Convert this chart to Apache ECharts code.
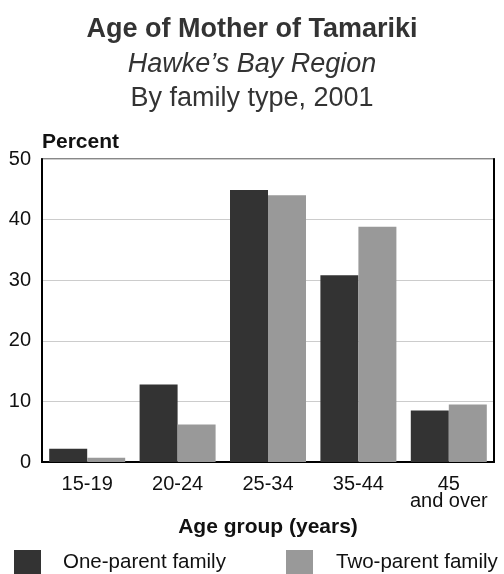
<!DOCTYPE html>
<html>
<head>
<meta charset="utf-8">
<script src="https://cdn.jsdelivr.net/npm/echarts@6/dist/echarts.min.js"></script>
<style>
html,body{margin:0;padding:0;background:#fff;}
#chart{width:504px;height:574px;}
</style>
</head>
<body>
<div id="chart"></div>
<script>
var titleLines = ['Age of Mother of Tamariki', 'Hawke\u2019s Bay Region', 'By family type, 2001'];
var categories = ['15-19', '20-24', '25-34', '35-44', '45\nand over'];
var seriesNames = ['One-parent family', 'Two-parent family'];
var onePar = [2.2, 12.8, 44.9, 30.8, 8.5];
var twoPar = [0.7, 6.2, 44.0, 38.8, 9.5];
var yMin = 0, yMax = 50, yStep = 10;
var yAxisTitle = 'Percent';
var xAxisTitle = 'Age group (years)';

var FONT = '"Liberation Sans", Arial, sans-serif';
var chart = echarts.init(document.getElementById('chart'), null, {renderer: 'canvas'});
chart.setOption({
  animation: false,
  backgroundColor: '#fff',
  title: [
    {text: titleLines[0], left: 'center', top: 11, textStyle: {fontFamily: FONT, fontSize: 27, fontWeight: 'bold', color: '#333', lineHeight: 27}},
    {text: titleLines[1], left: 'center', top: 46, textStyle: {fontFamily: FONT, fontSize: 27, fontStyle: 'italic', fontWeight: 'normal', color: '#333', lineHeight: 27}},
    {text: titleLines[2], left: 'center', top: 80, textStyle: {fontFamily: FONT, fontSize: 27, fontWeight: 'normal', color: '#333', lineHeight: 27}}
  ],
  legend: [
    {data: [seriesNames[0]], left: 9, top: 545, itemWidth: 27, itemHeight: 25, icon: 'rect',
     textStyle: {fontFamily: FONT, fontSize: 20.5, color: '#111', padding: [0, 0, 0, 17]}},
    {data: [seriesNames[1]], left: 281, top: 545, itemWidth: 27, itemHeight: 25, icon: 'rect',
     textStyle: {fontFamily: FONT, fontSize: 20.5, color: '#111', padding: [0, 0, 0, 18]}}
  ],
  grid: {left: 42, right: 10, top: 159, bottom: 112, containLabel: false, outerBoundsMode: 'none',
         show: true, borderColor: '#888', borderWidth: 2, backgroundColor: 'transparent'},
  xAxis: {
    type: 'category', data: categories,
    axisLine: {show: true, lineStyle: {color: '#000', width: 2}},
    axisTick: {show: false},
    axisLabel: {fontFamily: FONT, fontSize: 20, color: '#111', margin: 14, lineHeight: 17, interval: 0},
    name: xAxisTitle, nameLocation: 'middle', nameGap: 50,
    nameTextStyle: {fontFamily: FONT, fontSize: 21, fontWeight: 'bold', color: '#111'}
  },
  yAxis: [{
    type: 'value', min: yMin, max: yMax, interval: yStep,
    axisLine: {show: true, lineStyle: {color: '#000', width: 2}},
    axisTick: {show: false},
    axisLabel: {fontFamily: FONT, fontSize: 20, color: '#111', margin: 11},
    splitLine: {show: true, lineStyle: {color: '#ccc', width: 1}},
    name: yAxisTitle, nameLocation: 'end', nameGap: 17,
    nameTextStyle: {fontFamily: FONT, fontSize: 21, fontWeight: 'bold', color: '#111', align: 'left', verticalAlign: 'middle'}
  }, {
    type: 'value', min: yMin, max: yMax, interval: yStep, position: 'right',
    axisLine: {show: true, lineStyle: {color: '#000', width: 2}},
    axisTick: {show: false}, axisLabel: {show: false}, splitLine: {show: false}
  }],
  series: [
    {name: seriesNames[0], type: 'bar', data: onePar, barWidth: 38, barGap: '0%', itemStyle: {color: '#333333'}},
    {name: seriesNames[1], type: 'bar', data: twoPar, barWidth: 38, barGap: '0%', itemStyle: {color: '#999999'}}
  ]
});
</script>
</body>
</html>
